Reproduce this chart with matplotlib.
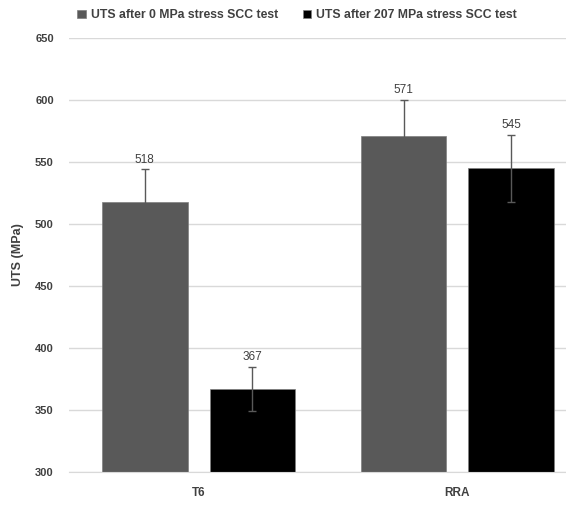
import numpy as np
from matplotlib import pyplot as plt

# data
categories = ['T6', 'RRA']
series_names = ['UTS after 0 MPa stress SCC test', 'UTS after 207 MPa stress SCC test']
uts_0 = [518, 571]
uts_207 = [367, 545]
err_0 = [26, 29]
err_207 = [18, 27]
bar_colors = ['#595959', '#000000']

plt.rcParams['font.family'] = ['Liberation Sans', 'DejaVu Sans']

fig = plt.figure(figsize=(5.66, 5.08), dpi=100)
# the original chart is cut off on the right, so the axes run past the figure edge
ax = fig.add_axes([0.122, 0.071, 0.915, 0.854])

x = np.arange(len(categories))
width = 0.33
offset = 0.2075

for vals, errs, color, name, sign in [(uts_0, err_0, bar_colors[0], series_names[0], -1),
                                      (uts_207, err_207, bar_colors[1], series_names[1], 1)]:
    pos = x + sign * offset
    ax.bar(pos, vals, width, color=color, label=name, zorder=2,
           edgecolor='#7f7f7f', linewidth=0.5)
    ax.errorbar(pos, vals, yerr=errs, fmt='none', ecolor='#595959',
                elinewidth=1, capsize=3, capthick=1, zorder=3)
    for p, v, e in zip(pos, vals, errs):
        ax.text(p, v + e + 3, str(v), ha='center', va='bottom',
                fontsize=8.5, color='#404040')

ax.set_ylim(300, 650)
ax.set_xlim(-0.5, 1.5)
ax.set_yticks(range(300, 651, 50))
ax.set_xticks(x)
ax.set_xticklabels(categories)
ax.yaxis.grid(True, color='#d9d9d9', linewidth=1, zorder=0)
ax.set_axisbelow(True)
for s in ['top', 'right', 'left']:
    ax.spines[s].set_visible(False)
ax.spines['bottom'].set_color('#d9d9d9')
ax.tick_params(axis='y', length=0, labelsize=8, colors='#404040', pad=11)
ax.tick_params(axis='x', length=0, labelsize=8.5, colors='#404040', pad=11)
for lbl in ax.get_xticklabels() + ax.get_yticklabels():
    lbl.set_fontweight('bold')
ax.set_ylabel('UTS (MPa)', fontsize=9, fontweight='bold', color='#404040', labelpad=8)

leg = fig.legend(loc='center', bbox_to_anchor=(0.525, 0.97), ncol=2, frameon=False,
                 handlelength=0.7, handleheight=0.7, handletextpad=0.4, columnspacing=2.0,
                 prop={'size': 8.8, 'weight': 'bold'})
for t in leg.get_texts():
    t.set_color('#404040')

fig.savefig('out.png', dpi=100)
